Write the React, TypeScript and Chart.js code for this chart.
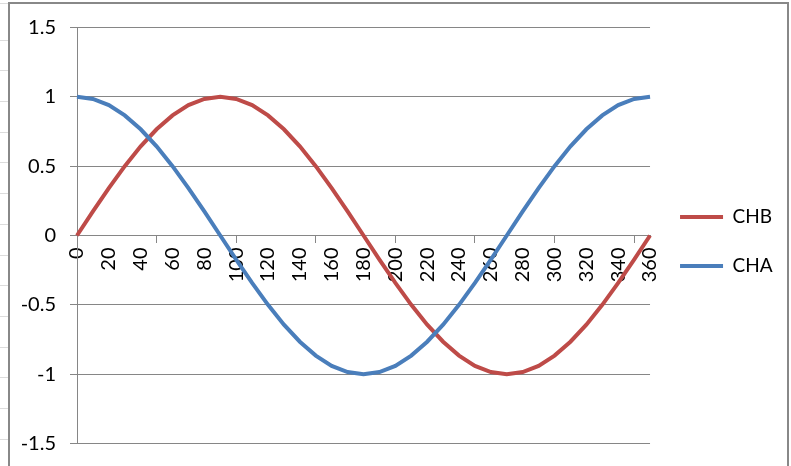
import React, { useEffect, useRef } from "react";
import { Chart, registerables } from "chart.js";

Chart.register(...registerables);

const categories = [
  "0", "10", "20", "30", "40", "50", "60", "70", "80", "90",
  "100", "110", "120", "130", "140", "150", "160", "170", "180", "190",
  "200", "210", "220", "230", "240", "250", "260", "270", "280", "290",
  "300", "310", "320", "330", "340", "350", "360",
];

const chbValues = [
  0, 0.174, 0.342, 0.5, 0.643, 0.766, 0.866, 0.94, 0.985, 1,
  0.985, 0.94, 0.866, 0.766, 0.643, 0.5, 0.342, 0.174, 0, -0.174,
  -0.342, -0.5, -0.643, -0.766, -0.866, -0.94, -0.985, -1, -0.985, -0.94,
  -0.866, -0.766, -0.643, -0.5, -0.342, -0.174, 0,
];

const chaValues = [
  1, 0.985, 0.94, 0.866, 0.766, 0.643, 0.5, 0.342, 0.174, 0,
  -0.174, -0.342, -0.5, -0.643, -0.766, -0.866, -0.94, -0.985, -1, -0.985,
  -0.94, -0.866, -0.766, -0.643, -0.5, -0.342, -0.174, 0, 0.174, 0.342,
  0.5, 0.643, 0.766, 0.866, 0.94, 0.985, 1,
];

const yTickValues = [-1.5, -1, -0.5, 0, 0.5, 1, 1.5];
const yTickLabels = ["-1.5", "-1", "-0.5", "0", "0.5", "1", "1.5"];

const FONT = "Lato";
const GRID = "#868686";
const RED = "#BE4B48";
const BLUE = "#4A7EBB";

export default function App() {
  const canvasRef = useRef<HTMLCanvasElement | null>(null);

  useEffect(() => {
    if (!canvasRef.current) return;
    const chart = new Chart(canvasRef.current, {
      type: "line",
      data: {
        labels: categories,
        datasets: [
          {
            label: "CHA",
            data: chaValues,
            borderColor: BLUE,
            backgroundColor: BLUE,
            borderWidth: 4,
            pointRadius: 0,
            pointStyle: "line",
            tension: 0,
            fill: false,
          },
          {
            label: "CHB",
            data: chbValues,
            borderColor: RED,
            backgroundColor: RED,
            borderWidth: 4,
            pointRadius: 0,
            pointStyle: "line",
            tension: 0,
            fill: false,
          },
        ],
      },
      options: {
        animation: false,
        responsive: true,
        maintainAspectRatio: false,
        layout: { padding: { top: 23.5, bottom: 22.5, left: 0, right: 4.4 } },
        plugins: {
          tooltip: { enabled: false },
          legend: {
            position: "right",
            reverse: true,
            title: { display: true, text: " ", font: { size: 10, lineHeight: 1.2 }, padding: 0 },
            labels: {
              usePointStyle: true,
              pointStyle: "line",
              pointStyleWidth: 43,
              padding: 30,
              color: "#000",
              font: { family: FONT, size: 19 },
            },
          },
        },
        scales: {
          x: {
            type: "category",
            position: { y: 0 } as any,
            offset: false,
            border: { display: true, color: GRID, width: 1 },
            grid: {
              drawOnChartArea: false,
              drawTicks: true,
              tickLength: 7,
              offset: false,
              tickColor: (ctx: any) => (ctx.index % 5 === 0 ? GRID : "rgba(0,0,0,0)"),
            },
            ticks: {
              autoSkip: false,
              maxRotation: 90,
              minRotation: 90,
              padding: 5,
              color: "#000",
              font: { family: FONT, size: 20 },
              callback: (_v: any, idx: number) => (idx % 2 === 0 ? categories[idx] : ""),
            },
          },
          y: {
            min: -1.5,
            max: 1.5,
            afterFit: (scale: any) => {
              scale.width = 67;
              scale.paddingTop = 0;
              scale.paddingBottom = 0;
            },
            afterBuildTicks: (scale: any) => {
              scale.ticks = yTickValues.map((v) => ({ value: v }));
            },
            border: { display: true, color: GRID, width: 1 },
            grid: {
              color: GRID,
              lineWidth: 1,
              drawTicks: true,
              tickLength: 7,
            },
            ticks: {
              padding: 14,
              color: "#000",
              font: { family: FONT, size: 20 },
              callback: (v: any) => {
                const i = yTickValues.indexOf(Number(v));
                return i >= 0 ? yTickLabels[i] : "";
              },
            },
          },
        },
      },
    });
    return () => chart.destroy();
  }, []);

  return (
    <div>
      <div
        style={{
          position: "absolute",
          left: 0,
          top: 0,
          width: 8,
          height: 466,
          backgroundImage:
            "repeating-linear-gradient(to bottom, transparent 0px, transparent 29.7px, #dcdcdc 29.7px, #dcdcdc 30.7px)",
          backgroundPosition: "0 10px",
        }}
      />
      <div
        style={{
          position: "absolute",
          left: 8,
          top: 2,
          width: 781,
          height: 480,
          boxSizing: "border-box",
          borderLeft: "2px solid #888",
          borderTop: "2px solid #888",
          borderRight: "2px solid #888",
          background: "#fff",
        }}
      >
        <div style={{ position: "absolute", left: 0, top: 0, width: 777, height: 462 }}>
          <canvas ref={canvasRef} />
        </div>
      </div>
    </div>
  );
}
